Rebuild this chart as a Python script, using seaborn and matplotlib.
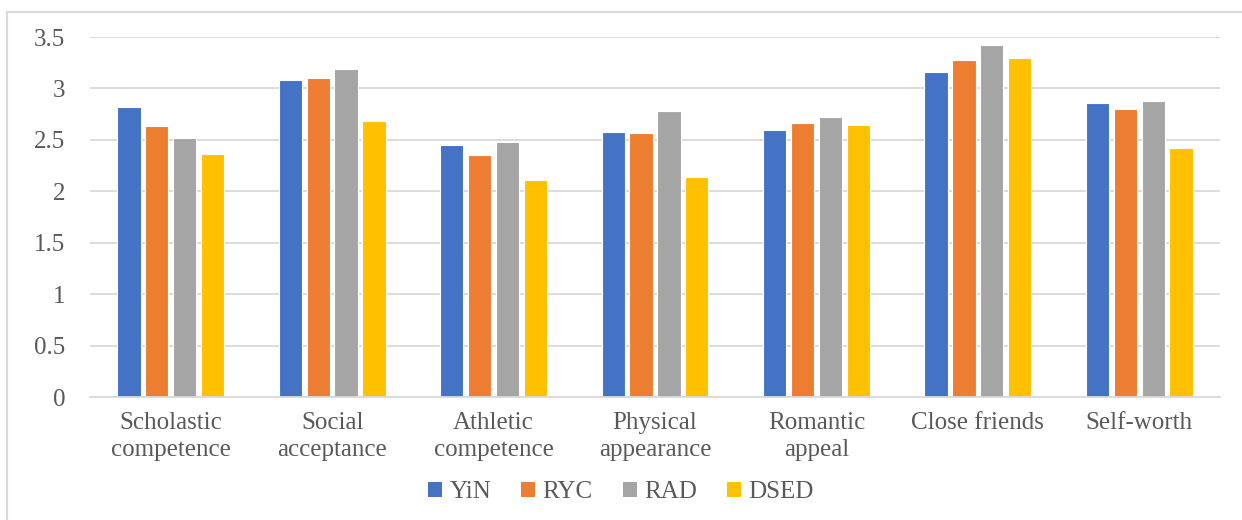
import matplotlib
matplotlib.use("Agg")
import matplotlib.pyplot as plt
import seaborn as sns
import pandas as pd
from matplotlib.patches import Rectangle, Patch

categories = ["Scholastic\ncompetence", "Social\nacceptance", "Athletic\ncompetence",
              "Physical\nappearance", "Romantic\nappeal", "Close friends", "Self-worth"]
series = ["YiN", "RYC", "RAD", "DSED"]
yin = [2.82, 3.08, 2.45, 2.58, 2.60, 3.16, 2.86]
ryc = [2.63, 3.10, 2.35, 2.57, 2.66, 3.28, 2.80]
rad = [2.52, 3.19, 2.48, 2.78, 2.72, 3.42, 2.88]
dsed = [2.36, 2.68, 2.11, 2.14, 2.64, 3.30, 2.42]
yticks = [0, 0.5, 1, 1.5, 2, 2.5, 3, 3.5]
ytick_labels = ["0", "0.5", "1", "1.5", "2", "2.5", "3", "3.5"]
colors = ["#4472C4", "#ED7D31", "#A5A5A5", "#FFC000"]

rows = []
for name, vals in zip(series, [yin, ryc, rad, dsed]):
    for c, v in zip(categories, vals):
        rows.append({"category": c, "series": name, "value": v})
df = pd.DataFrame(rows)

sns.set_theme(style="white")
plt.rcParams["font.family"] = ["Liberation Serif", "DejaVu Serif"]

W, H = 1242, 520
fig = plt.figure(figsize=(W / 100, H / 100), dpi=100)
ax = fig.add_axes([90 / W, 1 - 397 / H, (1220 - 90) / W, (397 - 37) / H])

sns.barplot(data=df, x="category", y="value", hue="series", order=categories,
            hue_order=series, palette=colors, width=0.69, gap=0.16,
            edgecolor="white", linewidth=0.8, saturation=1, ax=ax, legend=False)

ax.set_ylim(0, 3.5)
ax.set_xlim(-0.5, len(categories) - 0.5)
ax.set_yticks(yticks)
ax.set_yticklabels(ytick_labels)
ax.yaxis.grid(True, color="#D9D9D9", linewidth=1.3)
ax.set_axisbelow(True)
for s in ["top", "right", "left"]:
    ax.spines[s].set_visible(False)
ax.spines["bottom"].set_color("#D9D9D9")
ax.spines["bottom"].set_linewidth(1.3)
ax.set_xlabel("")
ax.set_ylabel("")
ax.tick_params(axis="y", length=0, pad=18, labelsize=18, labelcolor="#595959")
ax.tick_params(axis="x", length=0, pad=11, labelsize=18, labelcolor="#595959")
for lab in ax.get_xticklabels():
    lab.set_linespacing(1.25)

handles = [Patch(facecolor=c, edgecolor="none") for c in colors]
fig.legend(handles, series, loc="center", bbox_to_anchor=(0.5, 1 - 492 / H),
           ncol=4, frameon=False, fontsize=18, handlelength=0.55, handleheight=0.55,
           handletextpad=0.3, columnspacing=1.2, labelcolor="#595959")

fig.patches.append(Rectangle((7 / W, -0.1), 1.2, 1 - 12 / H + 0.1,
                             transform=fig.transFigure, fill=False,
                             edgecolor="#D9D9D9", linewidth=1.5))

fig.savefig("out.png", dpi=100)
